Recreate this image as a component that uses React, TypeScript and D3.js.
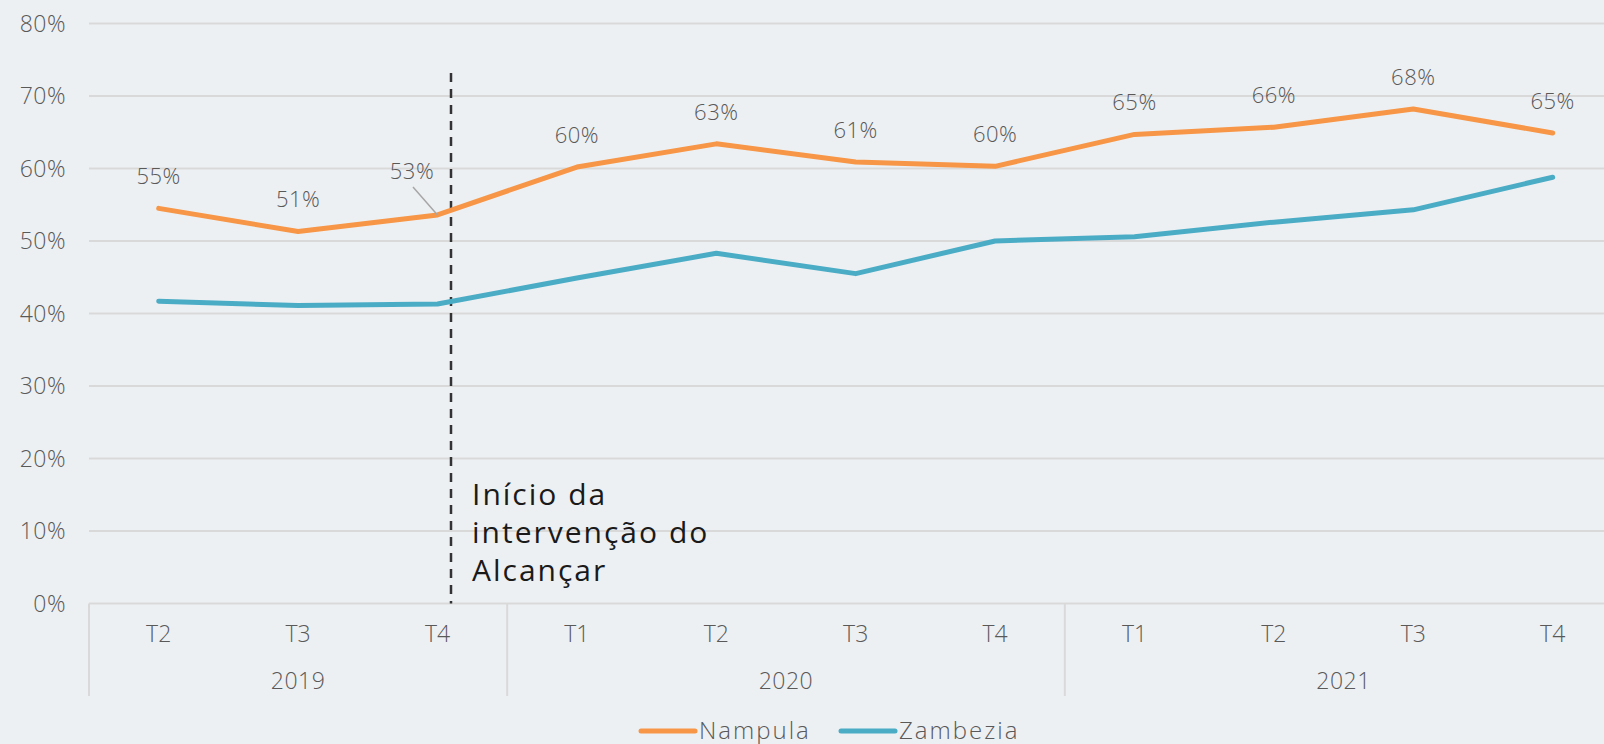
import React from "react";
import * as d3 from "d3";

const quarters = ["T2", "T3", "T4", "T1", "T2", "T3", "T4", "T1", "T2", "T3", "T4"];
const years = ["2019", "2020", "2021"];
const yearSpans = [3, 4, 4];
const nampula = [54.5, 51.3, 53.6, 60.2, 63.4, 60.9, 60.3, 64.7, 65.7, 68.2, 64.9];
const nampulaLabels = ["55%", "51%", "53%", "60%", "63%", "61%", "60%", "65%", "66%", "68%", "65%"];
const zambezia = [41.7, 41.1, 41.3, 44.9, 48.3, 45.5, 50.0, 50.6, 52.6, 54.3, 58.8];
const yTicks = [0, 10, 20, 30, 40, 50, 60, 70, 80];
const seriesNames = ["Nampula", "Zambezia"];
const annotationLines = ["Início da", "intervenção do", "Alcançar"];

const W = 1604;
const H = 744;
const FONT = "'Open Sans', sans-serif";
const GRAY = "#595959";
const ORANGE = "#F79646";
const TEAL = "#4BACC6";

export default function App() {
  const left = 89;
  const band = 139.4;
  const x = d3
    .scaleBand<number>()
    .domain(d3.range(quarters.length))
    .range([left, left + band * quarters.length])
    .paddingInner(0)
    .paddingOuter(0);
  const y = d3.scaleLinear().domain([0, 80]).range([603.5, 23.5]);
  const cx = (i: number) => (x(i) as number) + x.bandwidth() / 2;
  const line = d3
    .line<number>()
    .x((_, i) => cx(i))
    .y((d) => y(d));

  const bottom = y(0);
  const sepBottom = 696;

  const bounds: number[] = [0];
  let acc = 0;
  yearSpans.forEach((s) => {
    acc += s;
    bounds.push(acc);
  });
  const bx = (k: number) => left + k * x.bandwidth();

  return (
    <svg width={W} height={H} style={{ position: "absolute", left: 0, top: 0, background: "#EDF0F3" }}>
      <rect x={0} y={0} width={W} height={H} fill="#EDF0F3" />
      {yTicks.map((t) => (
        <g key={t}>
          <line x1={left} x2={W} y1={y(t)} y2={y(t)} stroke="#D9D9D9" strokeWidth={2} />
          <text x={66} y={y(t)} dy="0.35em" textAnchor="end" fontFamily={FONT} fontWeight={300} fontSize={23} letterSpacing={0.5} fill={GRAY}>
            {t}%
          </text>
        </g>
      ))}
      {bounds.map((k, i) =>
        i === bounds.length - 1 ? null : (
          <line key={i} x1={bx(k)} x2={bx(k)} y1={bottom} y2={sepBottom} stroke="#D9D9D9" strokeWidth={2} />
        )
      )}
      {quarters.map((q, i) => (
        <text key={i} x={cx(i)} y={634} dy="0.35em" textAnchor="middle" fontFamily={FONT} fontWeight={300} fontSize={23} fill={GRAY}>
          {q}
        </text>
      ))}
      {years.map((yr, i) => (
        <text
          key={yr}
          x={(bx(bounds[i]) + bx(bounds[i + 1])) / 2}
          y={681}
          dy="0.35em"
          textAnchor="middle"
          fontFamily={FONT}
          fontWeight={300}
          fontSize={23}
          letterSpacing={0.5}
          fill={GRAY}
        >
          {yr}
        </text>
      ))}
      <line x1={451} x2={451} y1={73} y2={bottom} stroke="#333" strokeWidth={2.5} strokeDasharray="9,7" />
      {annotationLines.map((l, i) => (
        <text key={i} x={472} y={494 + i * 38} dy="0.35em" fontFamily={FONT} fontSize={30} letterSpacing={2} fill="#1a1a1a">
          {l}
        </text>
      ))}
      <path d={line(zambezia) as string} fill="none" stroke={TEAL} strokeWidth={5} strokeLinejoin="round" strokeLinecap="round" />
      <path d={line(nampula) as string} fill="none" stroke={ORANGE} strokeWidth={5} strokeLinejoin="round" strokeLinecap="round" />
      <line x1={413} y1={187} x2={cx(2)} y2={y(nampula[2])} stroke="#A6A6A6" strokeWidth={1.5} />
      {nampula.map((v, i) => {
        const moved = i === 2;
        return (
          <text
            key={i}
            x={moved ? 412 : cx(i)}
            y={moved ? 171 : y(v) - 32}
            dy="0.35em"
            textAnchor="middle"
            fontFamily={FONT}
            fontWeight={300}
            fontSize={22}
            letterSpacing={0.5}
            fill={GRAY}
          >
            {nampulaLabels[i]}
          </text>
        );
      })}
      <line x1={641} x2={695} y1={731} y2={731} stroke={ORANGE} strokeWidth={5} strokeLinecap="round" />
      <text x={699} y={731} dy="0.35em" fontFamily={FONT} fontWeight={300} fontSize={24} letterSpacing={2} fill={GRAY}>
        {seriesNames[0]}
      </text>
      <line x1={841} x2={895} y1={731} y2={731} stroke={TEAL} strokeWidth={5} strokeLinecap="round" />
      <text x={899} y={731} dy="0.35em" fontFamily={FONT} fontWeight={300} fontSize={24} letterSpacing={2} fill={GRAY}>
        {seriesNames[1]}
      </text>
    </svg>
  );
}
